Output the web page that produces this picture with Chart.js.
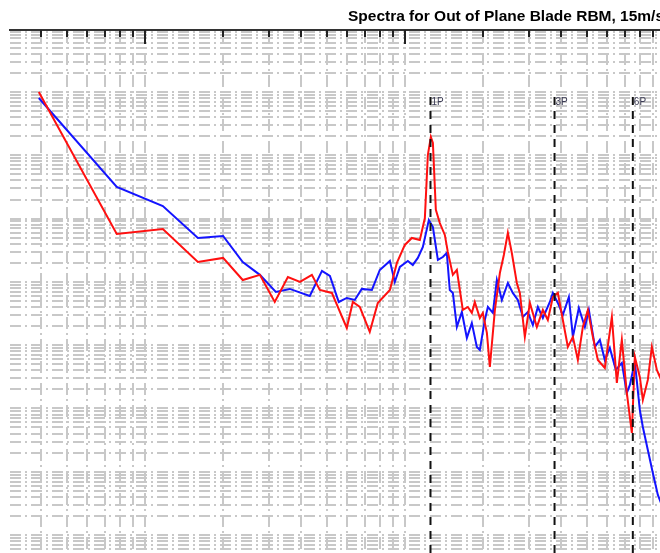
<!DOCTYPE html>
<html>
<head>
<meta charset="utf-8">
<script src="https://cdn.jsdelivr.net/npm/chart.js@4.4.1/dist/chart.umd.min.js"></script>
<style>
  html, body { margin: 0; padding: 0; background: #fff; overflow: hidden; }
  canvas { display: block; }
</style>
</head>
<body>
<canvas id="spectra" width="1002" height="553"></canvas>
<script>
// spectrum, blue run
const freqBlue = [0.00391, 0.0078, 0.01173, 0.0160, 0.0200, 0.0238, 0.0277, 0.0319, 0.0361, 0.0431,
  0.0480, 0.0515, 0.0557, 0.0598, 0.0642, 0.0683, 0.0747, 0.0801, 0.0876, 0.0915,
  0.0957, 0.1027, 0.1073, 0.1122, 0.1173, 0.1237, 0.1282, 0.1340, 0.1400, 0.1450,
  0.1489, 0.1530, 0.1585, 0.1657, 0.1732, 0.1810, 0.1892, 0.1943, 0.2031, 0.2086,
  0.2181, 0.2259, 0.2361, 0.2490, 0.2602, 0.2720, 0.2844, 0.2972, 0.3107, 0.3248,
  0.3395, 0.3612, 0.3709, 0.3877, 0.4052, 0.4274, 0.4429, 0.4669, 0.4925, 0.5102,
  0.5381, 0.5623, 0.5877, 0.6143, 0.6479, 0.6832, 0.7141, 0.7335, 0.7666, 0.8012,
  0.8229, 0.8601, 0.8991, 0.9399, 0.99, 1.05];
const psdBlue = [8.04e7, 3.16e6, 1.58e6, 4.94e5, 5.31e5, 2.06e5, 1.29e5, 6.92e4, 7.73e4, 5.98e4,
  1.49e5, 1.24e5, 4.81e4, 5.57e4, 5.18e4, 7.73e4, 7.45e4, 1.54e5, 2.14e5, 9.96e4,
  1.72e5, 2.14e5, 1.85e5, 2.39e5, 3.56e5, 9.5e5, 7.36e5, 2.22e5, 2.47e5, 2.86e5,
  7.45e4, 6.68e4, 1.94e4, 3.34e4, 1.30e4, 2.24e4, 9.37e3, 8.40e3, 2.50e4, 4.01e4,
  3.23e4, 1.07e5, 5.18e4, 9.61e4, 6.68e4, 5.18e4, 2.79e4, 3.34e4, 2.08e4, 4.01e4,
  2.69e4, 4.81e4, 6.68e4, 4.64e4, 3.00e4, 5.77e4, 1.35e4, 3.87e4, 1.94e4, 3.60e4,
  9.37e3, 1.21e4, 5.83e3, 9.04e3, 4.06e3, 5.24e3, 1.76e3, 2.35e3, 5.43e3, 9.46e2,
  5.10e2, 2.21e2, 95.7, 43.0, 25, 15];

// spectrum, red run
const freqRed = [0.00391, 0.0078, 0.01173, 0.0160, 0.0200, 0.0238, 0.0277, 0.0316, 0.0355, 0.0395,
  0.0439, 0.0471, 0.0524, 0.0598, 0.0631, 0.0671, 0.0733, 0.0787, 0.0876, 0.0932,
  0.1000, 0.1064, 0.1142, 0.1194, 0.1226, 0.1259, 0.1282, 0.1316, 0.1363, 0.1425,
  0.1463, 0.1530, 0.1585, 0.1627, 0.1671, 0.1747, 0.1810, 0.1858, 0.1943, 0.1995,
  0.2068, 0.2123, 0.2220, 0.2320, 0.2403, 0.2490, 0.2579, 0.2696, 0.2769, 0.2894,
  0.3026, 0.3219, 0.3395, 0.3548, 0.3709, 0.3877, 0.4052, 0.4236, 0.4429, 0.4628,
  0.4838, 0.5057, 0.5286, 0.5525, 0.5877, 0.6255, 0.6537, 0.6832, 0.7141, 0.7466,
  0.7666, 0.8012, 0.8229, 0.8601, 0.8913, 0.9316, 0.9567, 0.99, 1.02];
const psdRed = [1.0e8, 5.71e5, 6.85e5, 2.06e5, 2.39e5, 1.07e5, 1.29e5, 4.81e4, 1.19e5, 9.96e4,
  1.29e5, 7.45e4, 6.68e4, 1.87e4, 4.81e4, 4.01e4, 1.62e4, 4.64e4, 7.45e4, 1.99e5,
  3.83e5, 4.94e5, 4.59e5, 1.02e6, 1.01e7, 1.95e7, 1.56e7, 1.37e6, 8.5e5, 5.51e5,
  2.97e5, 1.29e5, 1.54e5, 7.45e4, 3.60e4, 4.01e4, 3.23e4, 4.81e4, 2.69e4, 3.23e4,
  1.56e4, 4.53e3, 3.60e4, 1.38e5, 2.66e5, 5.93e5, 2.86e5, 9.61e4, 6.68e4, 1.35e4,
  4.64e4, 1.94e4, 3.60e4, 2.50e4, 5.77e4, 6.68e4, 2.50e4, 9.37e3, 1.35e4, 5.83e3,
  1.94e4, 3.60e4, 1.35e4, 5.83e3, 4.37e3, 2.79e4, 2.53e3, 1.21e4, 1.76e3, 4.10e2,
  6.52e3, 3.15e3, 1.36e3, 2.82e3, 9.37e3, 4.06e3, 3.15e3, 5.0e3, 3.0e3];

// rotor harmonics
const harmonicLabels = ['1P', '3P', '6P'];
const harmonicFreqs = [0.1255, 0.3765, 0.753];
const harmonicTop = 8.3e7;

const titleText = 'Spectra for Out of Plane Blade RBM, 15m/s';
const xMin = 0.00303, xMax = 19.8;
const yMin = 5.2, yMax = 9.53e8;

const toPoints = (xs, ys) => xs.map((x, i) => ({ x: x, y: ys[i] }));

// log grid: 1..9 per decade
const logGrid = (min, max) => {
  const out = [];
  for (let k = -4; k <= 10; k++) {
    for (let m = 1; m <= 9; m++) {
      const v = parseFloat((m * Math.pow(10, k)).toPrecision(3));
      if (v >= min && v <= max) out.push({ value: v, major: m === 1 });
    }
  }
  return out;
};

const harmonicSets = harmonicFreqs.map(f => ({
  data: [{ x: f, y: harmonicTop }, { x: f, y: yMin }],
  borderColor: '#111',
  borderWidth: 2,
  borderDash: [8, 6],
  pointRadius: 0,
  order: 0
}));

// black ticks pointing into the plot, plus harmonic labels
const innerTicks = {
  id: 'innerTicks',
  afterDraw(chart) {
    const { ctx, chartArea, scales } = chart;
    const x = scales.x, y = scales.y;
    ctx.save();
    ctx.strokeStyle = '#222';
    ctx.lineWidth = 2;
    x.ticks.forEach(t => {
      const px = Math.round(x.getPixelForValue(t.value));
      const len = t.major ? 14 : 7;
      ctx.beginPath();
      ctx.moveTo(px, chartArea.top);
      ctx.lineTo(px, chartArea.top + len);
      ctx.stroke();
    });
    ctx.fillStyle = '#3c3c55';
    ctx.font = '10px "Liberation Sans", Arial, sans-serif';
    ctx.textBaseline = 'alphabetic';
    harmonicFreqs.forEach((f, i) => {
      ctx.fillText(harmonicLabels[i], x.getPixelForValue(f) + 1, y.getPixelForValue(harmonicTop) + 8);
    });
    ctx.restore();
  }
};

const gridStyle = {
  color: '#c8c8c8',
  lineWidth: 2,
  drawTicks: false
};

new Chart(document.getElementById('spectra'), {
  type: 'line',
  data: {
    datasets: [
      { data: toPoints(freqRed, psdRed), borderColor: '#ff1010', borderWidth: 2, pointRadius: 0, order: 1 },
      { data: toPoints(freqBlue, psdBlue), borderColor: '#1414ff', borderWidth: 2, pointRadius: 0, order: 2 },
      ...harmonicSets
    ]
  },
  options: {
    responsive: false,
    animation: false,
    events: [],
    layout: { padding: { left: 10, top: 0, right: 0, bottom: 0 } },
    plugins: {
      legend: { display: false },
      tooltip: { enabled: false },
      title: {
        display: true,
        text: titleText,
        color: '#000',
        font: { family: '"Liberation Sans", Arial, sans-serif', size: 15.5, weight: 'bold' },
        padding: { top: 7, bottom: 4.4 }
      }
    },
    scales: {
      x: {
        type: 'logarithmic',
        position: 'top',
        min: xMin,
        max: xMax,
        afterBuildTicks: axis => { axis.ticks = logGrid(xMin, xMax); },
        ticks: { display: false },
        grid: gridStyle,
        border: { display: true, color: '#333', width: 2, dash: [12, 4, 2, 4] }
      },
      y: {
        type: 'logarithmic',
        min: yMin,
        max: yMax,
        afterBuildTicks: axis => { axis.ticks = logGrid(yMin, yMax); },
        ticks: { display: false },
        grid: gridStyle,
        border: { display: false, dash: [11, 4, 2, 4] }
      }
    }
  },
  plugins: [innerTicks]
});
</script>
</body>
</html>
